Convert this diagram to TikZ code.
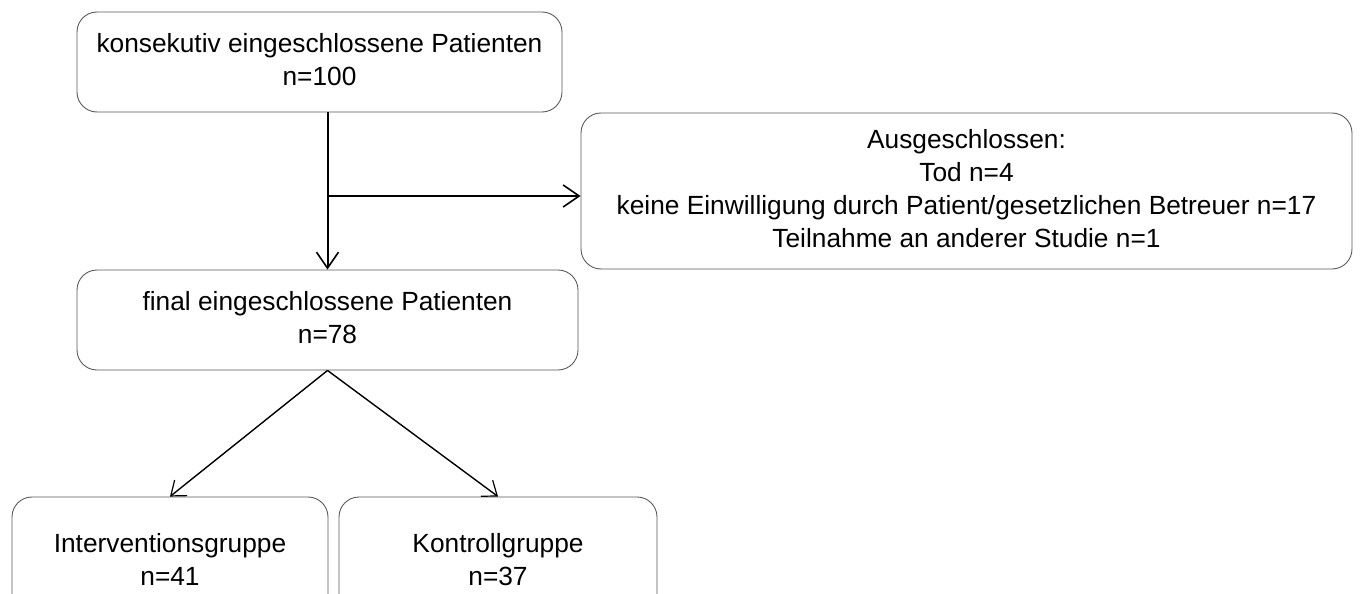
\documentclass[tikz,border=0pt]{standalone}
\usepackage{fontspec}
\setmainfont{Liberation Sans}
\usetikzlibrary{arrows.meta}
\begin{document}
\begin{tikzpicture}[x=1pt,y=-1pt,
  box/.style={draw=black!65, line width=0.9pt, rounded corners=20pt, align=center,
    font=\fontsize{26.3}{33}\selectfont, inner sep=0pt},
  conn/.style={line width=2pt, -{Straight Barb[length=16pt,width=22pt,line width=1.6pt]}},
  diag/.style={line width=1.4pt, -{Straight Barb[length=13pt,width=20pt,line width=1.2pt]}}]
\useasboundingbox (0,0) rectangle (1360,594);
\node[box, minimum width=485pt, minimum height=100pt] (a) at (319.5,62)
  {\strut konsekutiv eingeschlossene Patienten\\\strut n=100};
\node[box, minimum width=771pt, minimum height=156pt] (ex) at (966.5,191)
  {\strut Ausgeschlossen:\\\strut Tod n=4\\\strut keine Einwilligung durch Patient/gesetzlichen Betreuer n=17\\\strut Teilnahme an anderer Studie n=1};
\node[box, minimum width=501pt, minimum height=100pt] (b) at (327.5,320)
  {\strut final eingeschlossene Patienten\\\strut n=78};
\node[box, minimum width=316pt, minimum height=130pt] (c) at (170,562)
  {\strut Interventionsgruppe\\\strut n=41};
\node[box, minimum width=318pt, minimum height=130pt] (d) at (498,562)
  {\strut Kontrollgruppe\\\strut n=37};
\coordinate (top) at (a.south -| b.north);
\coordinate (exin) at ([yshift=-5pt]ex.west);
\coordinate (j) at (exin -| b.north);
\draw[conn] (top) -- (b.north);
\draw[conn] (j) -- (exin);
\draw[diag] (b.south) -- (c.north);
\draw[diag] (b.south) -- (d.north);
\end{tikzpicture}
\end{document}
